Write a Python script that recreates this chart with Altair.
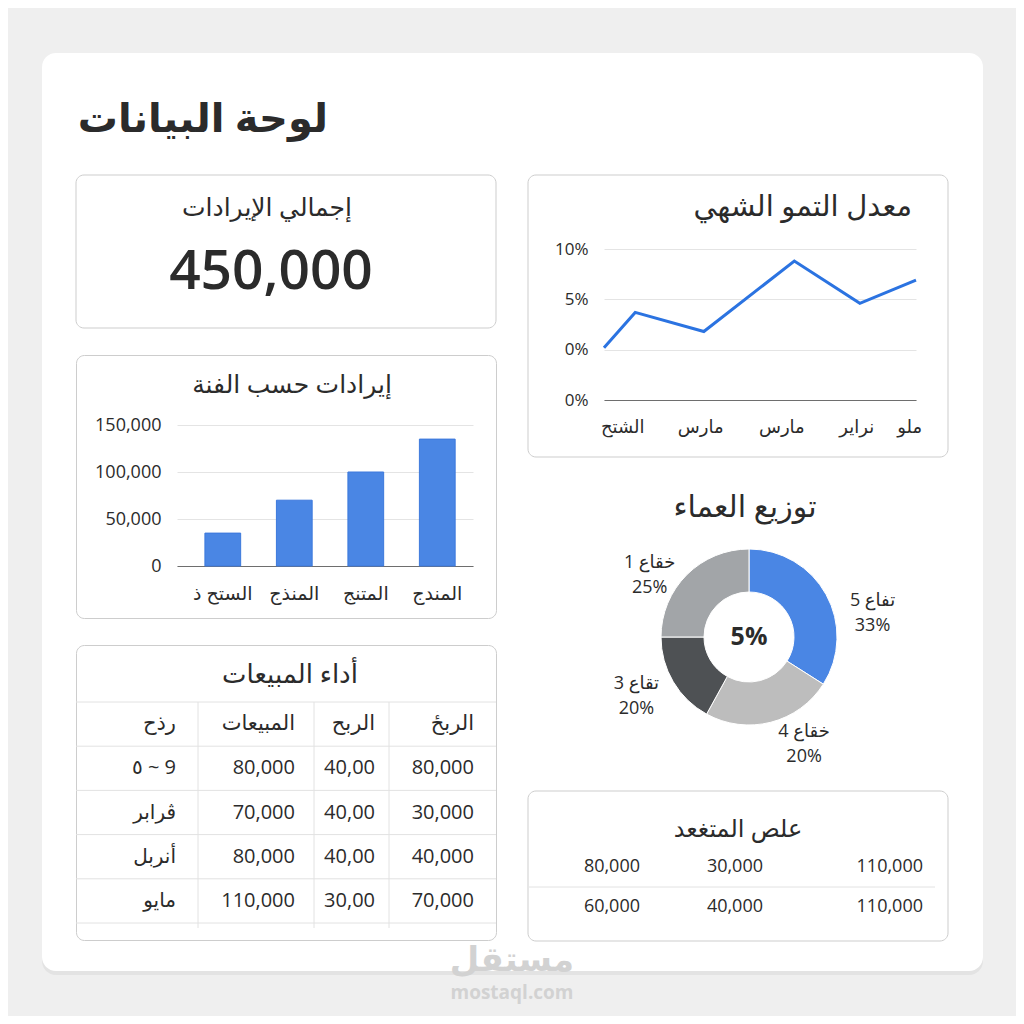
import altair as alt
import pandas as pd

FONT = "Open Sans, DejaVu Sans"
TXT = "#2b2b2b"
CARD_STROKE = "#cdcdcd"
GRID = "#e4e4e4"
AXIS_DARK = "#6e6e6e"
BLUE = "#4a86e4"

# ---------------- data ----------------
MAIN_TITLE = "لوحة البيانات"
KPI_LABEL = "إجمالي الإيرادات"
KPI_VALUE = 450000

LINE_TITLE = "معدل التمو الشهي"
LINE_X = [0, 10, 32, 61, 82, 100]
LINE_Y = [0.2, 3.7, 1.8, 8.8, 4.6, 6.9]
LINE_LABELS = ["الشتح", "مارس", "مارس", "نراير", "ملو"]
LINE_LABEL_POS = [6, 31, 57, 81, 98]
LINE_TICKS = [-5, 0, 5, 10]
LINE_TICK_LABELS = ["0%", "0%", "5%", "10%"]

BAR_TITLE = "إيرادات حسب الفنة"
BAR_CATS = ["الستح ذ", "المنذج", "المتنج", "المندج"]
BAR_VALUES = [35000, 70000, 100000, 135000]
BAR_TICKS = [0, 50000, 100000, 150000]

DONUT_TITLE = "توزيع العماء"
DONUT_SEGS = ["تفاع 5", "خقاع 4", "تقاع 3", "خقاع 1"]
DONUT_VALUES = [34, 24, 17, 25]
DONUT_PCT = ["33%", "20%", "20%", "25%"]
DONUT_CENTER = "5%"
DONUT_COLORS = ["#4a86e4", "#bdbdbd", "#4e5154", "#a2a5a8"]

TABLE_TITLE = "أداء المبيعات"
TABLE_HEADER = ["الربحٔ", "الربح", "المبيعات", "رذح"]  # right to left
TABLE_COL1 = [80000, 30000, 40000, 70000]
TABLE_COL2 = ["40,00", "40,00", "40,00", "30,00"]
TABLE_COL3 = [80000, 70000, 80000, 110000]
TABLE_COL4 = ["٥ ~ 9", "ڤرابر", "أنربل", "مايو"]

SMALL_TITLE = "علص المتغعد"
SMALL_ROW1 = [110000, 30000, 80000]  # right to left
SMALL_ROW2 = [110000, 40000, 60000]

WATERMARK = ["مستقل", "mostaql.com"]

# ---------------- helpers ----------------
one = pd.DataFrame({"k": [0]})


def fmt(v):
    return f"{v:,}" if isinstance(v, int) else v


def text_layer(text, x, y, size, weight="normal", align="center", color=TXT):
    return alt.Chart(pd.DataFrame({"t": [text]})).mark_text(
        font=FONT, fontSize=size, fontWeight=weight, align=align,
        baseline="middle", color=color
    ).encode(text="t:N", x=alt.value(x), y=alt.value(y))


def box(x, x2, y, y2, **kw):
    return alt.Chart(one).mark_rect(**kw).encode(
        x=alt.value(x), x2=alt.value(x2), y=alt.value(y), y2=alt.value(y2))


def card(x, x2, y, y2):
    # outline only: the white sheet underneath provides the fill, axes stay visible
    return box(x, x2, y, y2, filled=False, stroke=CARD_STROKE, strokeWidth=1, cornerRadius=8)


CARD_VIEW = alt.ViewBackground(fill="white", stroke=CARD_STROKE, strokeWidth=1, cornerRadius=8)

# ---------------- KPI panel (also page background + main title) ----------------
kpi = alt.layer(
    box(-68, 940, -167, 841, color="#efefef"),
    box(-34, 907, -119, 800, color="#e3e3e3", cornerRadius=14),
    box(-34, 907, -122, 796, color="#ffffff", cornerRadius=14),
    card(0, 420, 0, 153),
    text_layer(MAIN_TITLE, 252, -55, 40, weight="bold", align="right"),
    text_layer(KPI_LABEL, 191, 33, 25),
    text_layer(fmt(KPI_VALUE), 195, 97, 55, weight=600),
).properties(width=420, height=153)

# ---------------- line panel ----------------
line_df = pd.DataFrame({"x": LINE_X, "y": LINE_Y})
lx = alt.Scale(domain=[0, 100], range=[76, 388], nice=False, zero=False)
ly = alt.Scale(domain=[-5, 10], range=[225, 74], nice=False, zero=False)
lexpr = "".join(f"datum.value == {v} ? '{l}' : " for v, l in zip(LINE_TICKS, LINE_TICK_LABELS)) + "''"
lx_axis = alt.Axis(labels=False, ticks=False, tickSize=0, grid=False, domain=True,
                   domainColor=AXIS_DARK, offset=72)
ly_axis = alt.Axis(values=LINE_TICKS, labelExpr=lexpr, offset=-76, labelPadding=16,
                   ticks=False, tickSize=0, domain=False, grid=True, gridColor=GRID)
line_mark = alt.Chart(line_df).mark_line(color="#2b73e1", strokeWidth=3).encode(
    x=alt.X("x:Q", scale=lx, axis=lx_axis, title=None),
    y=alt.Y("y:Q", scale=ly, axis=ly_axis, title=None),
)
line_labels = alt.Chart(pd.DataFrame({"x": LINE_LABEL_POS, "t": LINE_LABELS})).mark_text(
    font=FONT, fontSize=18, color=TXT, baseline="middle"
).encode(x=alt.X("x:Q", scale=lx, axis=lx_axis, title=None), y=alt.value(253), text="t:N")
line_p = alt.layer(
    card(0, 420, 0, 282),
    line_mark, line_labels,
    text_layer(LINE_TITLE, 384, 32, 29, align="right"),
).properties(width=420, height=153)

# ---------------- bar panel ----------------
bar_df = pd.DataFrame({"c": BAR_CATS, "v": BAR_VALUES})
bx = alt.Scale(domain=BAR_CATS, range=[101, 397], paddingInner=0.5, paddingOuter=0.32, align=0.61)
by = alt.Scale(domain=[0, 150000], range=[211, 70], nice=False)
bars = alt.Chart(bar_df).mark_bar(color=BLUE, stroke="#3c78dc", strokeWidth=1).encode(
    x=alt.X("c:N", scale=bx, title=None,
            axis=alt.Axis(labelAngle=0, ticks=False, tickSize=0, domain=True, domainColor=AXIS_DARK,
                          offset=-52, labelPadding=27, labelBaseline="middle", grid=False,
                          labelFontSize=19)),
    y=alt.Y("v:Q", scale=by, title=None,
            axis=alt.Axis(values=BAR_TICKS, labelExpr="format(datum.value, ',')", offset=-101,
                          labelPadding=16, ticks=False, tickSize=0, domain=False, grid=True,
                          gridColor=GRID, labelFontSize=18)),
)
bar_p = alt.layer(
    bars,
    text_layer(BAR_TITLE, 216, 30, 25),
).properties(width=420, height=263, view=CARD_VIEW)

# ---------------- donut panel ----------------
DCX, DCY = 221, 282
donut_df = pd.DataFrame({
    "seg": DONUT_SEGS, "v": DONUT_VALUES, "o": list(range(len(DONUT_SEGS))),
    "lab": [f"{s}\n{p}" for s, p in zip(DONUT_SEGS, DONUT_PCT)],
})
theta = alt.Theta("v:Q", stack=True)
arc = alt.Chart(donut_df).mark_arc(innerRadius=45, outerRadius=88, stroke="#ffffff", strokeWidth=1).encode(
    theta=theta, order=alt.Order("o:Q"),
    color=alt.Color("seg:N", scale=alt.Scale(domain=DONUT_SEGS, range=DONUT_COLORS), legend=None),
    x=alt.value(DCX), y=alt.value(DCY),
)
LABEL_NUDGE = [(14, 24), (24, -26), (-5, -17), (-11, 14)]
arc_labels = [
    alt.Chart(donut_df).mark_text(
        radius=125, font=FONT, fontSize=18, color=TXT, lineBreak="\n", lineHeight=25,
        baseline="middle", dx=ddx, dy=ddy
    ).encode(theta=theta, order=alt.Order("o:Q"),
             text=alt.condition(f"datum.o == {i}", "lab:N", alt.value("")),
             x=alt.value(DCX), y=alt.value(DCY))
    for i, (ddx, ddy) in enumerate(LABEL_NUDGE)
]
donut_p = alt.layer(
    arc, *arc_labels,
    text_layer(DONUT_CENTER, DCX, DCY, 25, weight="bold"),
    text_layer(DONUT_TITLE, 217, 153, 30),
).properties(width=420, height=263)

# ---------------- sales table panel ----------------
ROWS = ["h", "1", "2", "3", "4"]
recs = []
for ci, (hdr, vals) in enumerate(zip(TABLE_HEADER, [TABLE_COL1, TABLE_COL2, TABLE_COL3, TABLE_COL4])):
    xi = 3 - ci
    recs.append({"col": xi, "row": "h", "t": hdr, "kind": "h"})
    for ri, v in enumerate(vals):
        recs.append({"col": xi, "row": str(ri + 1), "t": fmt(v), "kind": "d"})
tab_df = pd.DataFrame(recs)
tx = alt.Scale(domain=[0, 1, 2, 3], range=[100, 219, 299, 398], nice=False, zero=False)
ty = alt.Scale(domain=ROWS, range=[57, 278], paddingInner=0, paddingOuter=0)


def table_text(df, size):
    return alt.Chart(df).mark_text(font=FONT, fontSize=size, color=TXT, align="right", baseline="middle").encode(
        x=alt.X("col:Q", scale=tx, axis=None), y=alt.Y("row:N", scale=ty, axis=None), text="t:N")


hrules = alt.Chart(pd.DataFrame({"row": ROWS})).mark_rule(color="#e2e2e2", strokeWidth=1).encode(
    y=alt.Y("row:N", scale=ty, axis=None, bandPosition=0), x=alt.value(0), x2=alt.value(420))
bottom_rule = alt.Chart(one).mark_rule(color="#e2e2e2", strokeWidth=1).encode(
    y=alt.value(278), x=alt.value(0), x2=alt.value(420))
vrules = [alt.Chart(one).mark_rule(color="#e2e2e2", strokeWidth=1).encode(
    x=alt.value(xv), y=alt.value(57), y2=alt.value(283)) for xv in (122, 238, 313)]
table_p = alt.layer(
    hrules, bottom_rule, *vrules,
    table_text(tab_df[tab_df.kind == "h"], 21),
    table_text(tab_df[tab_df.kind == "d"], 20),
    text_layer(TABLE_TITLE, 214, 30, 26),
).properties(width=420, height=295, view=CARD_VIEW)

# ---------------- small table panel ----------------
SROWS = ["1", "2"]
srecs = []
for ri, row in enumerate([SMALL_ROW1, SMALL_ROW2]):
    for ci, v in enumerate(row):
        srecs.append({"col": 2 - ci, "row": SROWS[ri], "t": fmt(v)})
small_df = pd.DataFrame(srecs)
sx = alt.Scale(domain=[0, 1, 2], range=[112, 235, 395], nice=False, zero=False)
sy = alt.Scale(domain=SROWS, range=[202, 282], paddingInner=0, paddingOuter=0)
small_text = alt.Chart(small_df).mark_text(font=FONT, fontSize=18, color=TXT, align="right", baseline="middle").encode(
    x=alt.X("col:Q", scale=sx, axis=None), y=alt.Y("row:N", scale=sy, axis=None), text="t:N")
small_rule = alt.Chart(pd.DataFrame({"row": SROWS[1:]})).mark_rule(color="#e2e2e2", strokeWidth=1).encode(
    y=alt.Y("row:N", scale=sy, axis=None, bandPosition=0), x=alt.value(1), x2=alt.value(407))
small_p = alt.layer(
    card(0, 420, 146, 296),
    small_rule, small_text,
    text_layer(SMALL_TITLE, 210, 185, 24),
    text_layer(WATERMARK[0], -16, 316, 34, weight="bold", color="#d2d2d2"),
    text_layer(WATERMARK[1], -16, 348, 19, weight="bold", color="#d2d2d2"),
).properties(width=420, height=295)

# ---------------- assemble ----------------
chart = alt.concat(
    kpi, line_p, bar_p, donut_p, table_p, small_p,
    columns=2, spacing={"row": 27, "column": 32}, align="none", bounds="flush",
).properties(
    padding=0, background="#efefef"
).configure_view(
    strokeWidth=0
).configure_axis(
    labelFont=FONT, labelColor=TXT, labelFontSize=17
)

chart.save("out.html", embed_options={"renderer": "svg", "actions": False})
